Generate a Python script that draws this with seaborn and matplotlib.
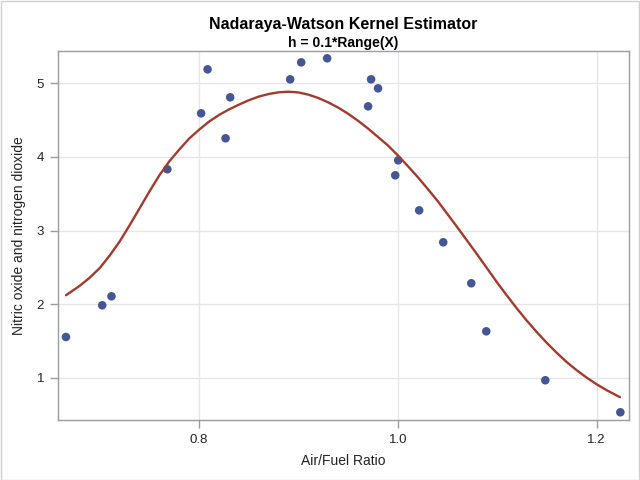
import matplotlib
matplotlib.use("Agg")
import matplotlib.pyplot as plt
import seaborn as sns
import pandas as pd
from matplotlib.patches import Rectangle

# Observed data (Air/Fuel ratio vs NOx)
air_fuel = [0.666, 0.7025, 0.7118, 0.768, 0.802, 0.8085, 0.8266, 0.8312,
            0.8916, 0.9027, 0.9288, 0.973, 0.980, 0.970, 1.0003, 0.9973,
            1.0214, 1.0456, 1.0738, 1.0889, 1.1483, 1.2238]
nox = [1.553, 1.984, 2.106, 3.832, 4.592, 5.19, 4.253, 4.81,
       5.054, 5.285, 5.34, 5.054, 4.932, 4.687, 3.954, 3.75,
       3.274, 2.84, 2.283, 1.63, 0.965, 0.53]

# Kernel estimate curve
curve_x = [0.666, 0.68, 0.69, 0.70, 0.71, 0.72, 0.73, 0.74, 0.75, 0.76,
           0.77, 0.78, 0.79, 0.80, 0.81, 0.82, 0.83, 0.84, 0.85, 0.86,
           0.87, 0.88, 0.89, 0.90, 0.91, 0.92, 0.93, 0.94, 0.95, 0.96,
           0.97, 0.98, 0.99, 1.00, 1.01, 1.02, 1.03, 1.04, 1.05, 1.06,
           1.07, 1.08, 1.09, 1.10, 1.11, 1.12, 1.13, 1.14, 1.15, 1.16,
           1.17, 1.18, 1.19, 1.20, 1.21, 1.2234]
curve_y = [2.12, 2.25, 2.36, 2.49, 2.66, 2.85, 3.07, 3.30, 3.53, 3.75,
           3.94, 4.10, 4.25, 4.37, 4.48, 4.57, 4.645, 4.71, 4.77, 4.82,
           4.855, 4.878, 4.886, 4.876, 4.846, 4.80, 4.74, 4.67, 4.585, 4.49,
           4.385, 4.27, 4.155, 4.02, 3.875, 3.725, 3.565, 3.40, 3.22, 3.04,
           2.855, 2.67, 2.48, 2.29, 2.11, 1.935, 1.77, 1.615, 1.47, 1.335,
           1.21, 1.10, 1.00, 0.91, 0.83, 0.735]

x_ticks = [0.8, 1.0, 1.2]
x_tick_labels = ["0.8", "1.0", "1.2"]
y_ticks = [1, 2, 3, 4, 5]

sns.set_theme(style="white")
plt.rcParams['font.family'] = ['Liberation Sans', 'DejaVu Sans']

pts = pd.DataFrame({"x": air_fuel, "y": nox})
crv = pd.DataFrame({"x": curve_x, "y": curve_y})

fig = plt.figure(figsize=(6.4, 4.8), dpi=100)
ax = fig.add_axes([58/640, 1-420/480, (628.7-58)/640, (420-50.5)/480])

sns.scatterplot(data=pts, x="x", y="y", ax=ax, color="#445694", s=38,
                edgecolor="none", zorder=3)
sns.lineplot(data=crv, x="x", y="y", ax=ax, color="#A23A2E", linewidth=1.7,
             sort=False, zorder=4)

ax.set_xlim(0.658, 1.2322)
ax.set_ylim(0.425, 5.446)
ax.set_xticks(x_ticks)
ax.set_xticklabels(x_tick_labels)
ax.set_yticks(y_ticks)
ax.grid(True, color="#e6e6e6", linewidth=1)
ax.set_axisbelow(True)
for s in ax.spines.values():
    s.set_color("#9a9ea3")
    s.set_linewidth(1)
ax.tick_params(axis="both", which="both", bottom=True, left=True,
               length=6, width=1, color="#9a9ea3", labelsize=9.5,
               labelcolor="#222222", pad=4)

ax.set_xlabel("Air/Fuel Ratio", fontsize=10, color="#222222", labelpad=6)
ax.set_ylabel("Nitric oxide and nitrogen dioxide", fontsize=10,
              color="#222222", labelpad=8)

cx = (58 + 628.7) / 2 / 640
fig.text(cx, 1 - 24/480, "Nadaraya-Watson Kernel Estimator", ha="center",
         va="center", fontsize=11.5, fontweight="bold", color="#000000")
fig.text(cx, 1 - 43/480, "h = 0.1*Range(X)", ha="center", va="center",
         fontsize=10, fontweight="bold", color="#000000")

fig.patches.append(Rectangle((0.5/640, 0.5/480), 1 - 1.5/640, 1 - 1.5/480,
                             transform=fig.transFigure, fill=False,
                             edgecolor="#d0d0d0", linewidth=1))

fig.savefig("out.png", dpi=100)
